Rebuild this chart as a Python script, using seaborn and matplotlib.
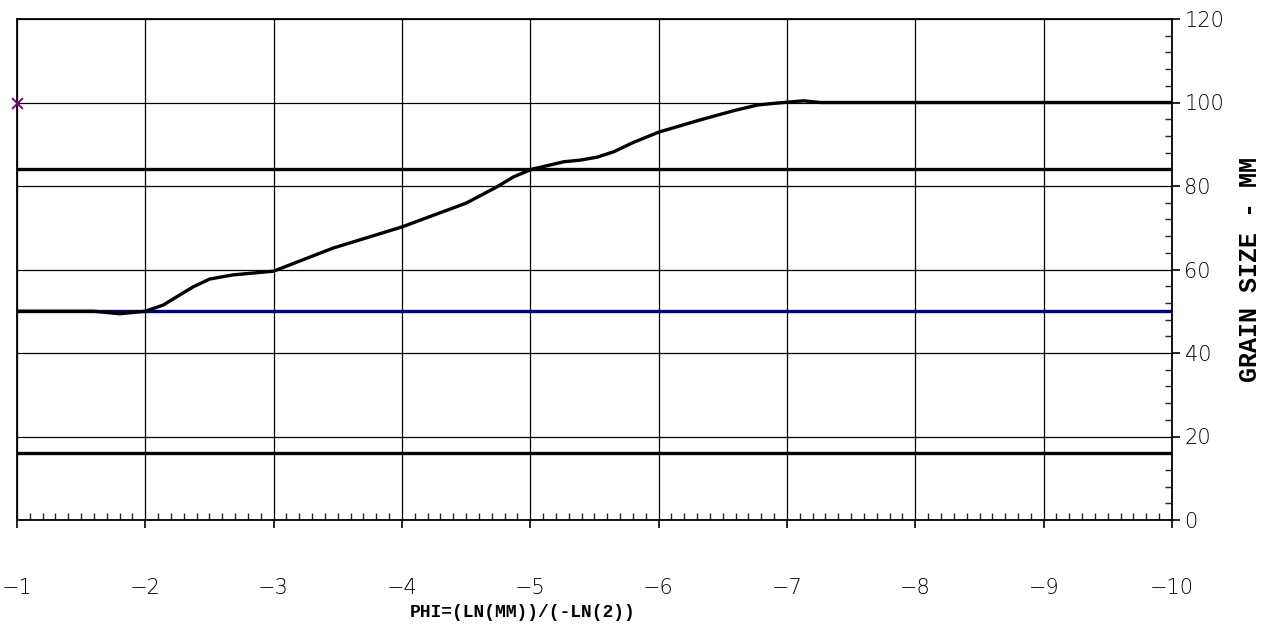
import matplotlib
matplotlib.use("Agg")
import matplotlib.pyplot as plt
import seaborn as sns
from matplotlib.ticker import MultipleLocator

# ---- data ----
phi = [-1.0, -1.6, -1.8, -2.0, -2.14, -2.37, -2.5, -2.68, -3.0, -3.46, -4.0,
       -4.5, -4.74, -4.87, -5.01, -5.26, -5.39, -5.52, -5.65, -5.80, -6.0,
       -6.32, -6.58, -6.77, -6.90, -7.01, -7.13, -7.26, -8.0, -9.0, -10.0]
pct = [50.0, 50.0, 49.4, 50.0, 51.5, 55.8, 57.7, 58.7, 59.6, 65.1, 70.2,
       75.9, 79.8, 82.2, 84.0, 85.8, 86.2, 86.9, 88.2, 90.4, 92.9,
       95.8, 98.0, 99.4, 99.8, 100.1, 100.4, 100.0, 100.0, 100.0, 100.0]
ref_x = [-1.0, -10.0]
ref_84 = [84, 84]
ref_50 = [50, 50]
ref_16 = [16, 16]
marker_x = [-1.0]
marker_y = [100.0]
x_ticks = [-1, -2, -3, -4, -5, -6, -7, -8, -9, -10]
y_ticks = [0, 20, 40, 60, 80, 100, 120]
x_label = "PHI=(LN(MM))/(-LN(2))"
y_label = "GRAIN SIZE - MM"

sns.set_style("white")
plt.rcParams['font.family'] = ['DejaVu Sans']
plt.rcParams['text.color'] = 'black'
plt.rcParams['axes.labelcolor'] = 'black'

fig = plt.figure(figsize=(12.76, 6.26), dpi=100)
ax = fig.add_axes([17/1276, 106/626, (1172-17)/1276, (520-19)/626])

sns.lineplot(x=ref_x, y=ref_84, ax=ax, color="black", lw=2.4, sort=False, zorder=3)
sns.lineplot(x=ref_x, y=ref_16, ax=ax, color="black", lw=2.4, sort=False, zorder=3)
sns.lineplot(x=ref_x, y=ref_50, ax=ax, color="#000080", lw=2.4, sort=False, zorder=3)
sns.lineplot(x=phi, y=pct, ax=ax, color="black", lw=2.4, sort=False, zorder=4)
sns.scatterplot(x=marker_x, y=marker_y, ax=ax, marker="x", color="#800080",
                s=60, linewidth=1.4, zorder=5, clip_on=False)

ax.set_xlim(-1, -10)
ax.set_ylim(0, 120)
ax.set_xticks(x_ticks)
ax.set_xticklabels([f"\u2212{abs(v)}" for v in x_ticks])
ax.set_yticks(y_ticks)
ax.xaxis.set_minor_locator(MultipleLocator(0.1))
ax.yaxis.set_minor_locator(MultipleLocator(4))
ax.yaxis.tick_right()

ax.grid(True, which="major", color="black", lw=0.9)
for s in ax.spines.values():
    s.set_color("black")
    s.set_linewidth(1.3)
    s.set_visible(True)

tick_font = dict(family="DejaVu Sans", weight="light", size=15)
ax.tick_params(axis="x", which="major", direction="out", length=6, width=1.2,
               pad=36, colors="black", bottom=True)
ax.tick_params(axis="x", which="minor", direction="in", length=5, width=1,
               bottom=True, top=False)
ax.tick_params(axis="y", which="major", direction="out", length=6, width=1.2,
               pad=3, colors="black", right=True, left=False)
ax.tick_params(axis="y", which="minor", direction="in", length=5, width=1,
               right=True, left=False)
for lab in ax.get_xticklabels() + ax.get_yticklabels():
    lab.set_fontproperties(matplotlib.font_manager.FontProperties(**tick_font))

ax.set_xlabel(x_label, family="Liberation Mono", fontweight="bold",
              fontsize=13, color="black")
ax.xaxis.set_label_coords((523-17)/(1172-17), -(604-520)/501)
ax.text((1250-17)/(1172-17), 0.5, y_label, transform=ax.transAxes,
        rotation=90, ha="center", va="center", family="Liberation Mono",
        fontweight="bold", fontsize=18, color="black")

fig.savefig("out.png", dpi=100)
